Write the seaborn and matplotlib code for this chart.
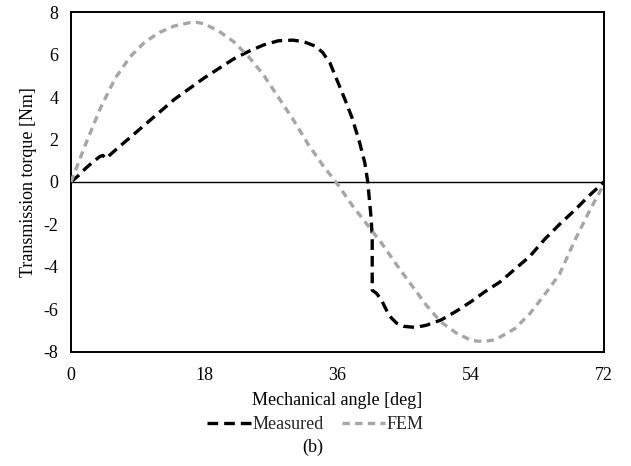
import matplotlib
matplotlib.use("Agg")
import matplotlib.pyplot as plt
import seaborn as sns
import pandas as pd
from matplotlib.lines import Line2D

# Measured series
meas_x = [0, 1, 2, 3, 3.9, 4.3, 4.7, 6, 8, 10, 12, 14, 16, 18, 20, 22, 24, 26, 28, 30,
          31.5, 33, 34, 35, 36, 37, 38, 39, 39.7, 40.1, 40.5, 40.7, 40.7, 41.3, 42, 43, 44, 45,
          46.5, 48, 50, 52, 54, 56, 58, 60, 62, 64, 66, 68, 70, 72]
meas_y = [0, 0.3, 0.65, 0.95, 1.2, 1.25, 1.1, 1.5, 2.1, 2.7, 3.3, 3.9, 4.4, 4.9, 5.35,
          5.8, 6.15, 6.45, 6.65, 6.68, 6.6, 6.4, 6.1, 5.6, 4.75, 3.9, 3.0, 1.85, 0.9, 0.0,
          -1.5, -2.5, -5.1, -5.25, -5.6, -6.3, -6.65, -6.8, -6.85, -6.75, -6.5, -6.1, -5.65,
          -5.15, -4.7, -4.1, -3.5, -2.7, -2.0, -1.35, -0.65, 0]

# FEM series
fem_x = [0, 2, 4, 6, 8, 10, 12, 14, 16, 17, 18, 20, 22, 24, 26, 28, 30, 32, 34, 36, 38,
         40, 42, 44, 46, 48, 50, 52, 54, 55, 56, 57, 58, 60, 62, 64, 66, 68, 70, 72]
fem_y = [0, 1.8, 3.5, 4.9, 5.9, 6.6, 7.05, 7.35, 7.5, 7.52, 7.45, 7.1, 6.6, 5.9, 5.05,
         4.0, 2.95, 1.8, 0.8, -0.1, -1.1, -2.0, -2.9, -3.9, -4.85, -5.8, -6.6, -7.1,
         -7.45, -7.5, -7.5, -7.45, -7.3, -6.9, -6.2, -5.3, -4.35, -2.8, -1.4, -0.1]

x_ticks = [0, 18, 36, 54, 72]
y_ticks = [-8, -6, -4, -2, 0, 2, 4, 6, 8]

sns.set_theme(style="white")
plt.rcParams['font.family'] = ['Liberation Serif', 'DejaVu Serif']
plt.rcParams['axes.unicode_minus'] = False

df = pd.concat([
    pd.DataFrame({"angle": meas_x, "torque": meas_y, "series": "Measured"}),
    pd.DataFrame({"angle": fem_x, "torque": fem_y, "series": "FEM"}),
], ignore_index=True)

fig = plt.figure(figsize=(6.31, 4.66), dpi=100)
ax = fig.add_axes([0.1125, 0.245, 0.957 - 0.1125, 0.974 - 0.245])

palette = {"Measured": "#000000", "FEM": "#A6A6A6"}
dashes = {"Measured": (3.2, 1.8), "FEM": (2.2, 1.6)}
ax.axhline(0, color="black", lw=1.0, zorder=1)
sns.lineplot(data=df, x="angle", y="torque", hue="series", style="series",
             palette=palette, dashes=dashes, sort=False, estimator=None,
             lw=2.4, ax=ax, legend=False, zorder=3)

FS = 13
ax.set_xlim(0, 72)
ax.set_ylim(-8, 8)
ax.set_xticks(x_ticks)
ax.set_yticks(y_ticks)
ax.tick_params(axis="both", length=0, labelsize=FS, colors="black")
ax.tick_params(axis="x", pad=11)
ax.tick_params(axis="y", pad=9)
for s in ax.spines.values():
    s.set_color("black")
    s.set_linewidth(1.4)
ax.set_xlabel("Mechanical angle [deg]", fontsize=FS, color="black", labelpad=6)
ax.set_ylabel("Transmission torque [Nm]", fontsize=FS, color="black", labelpad=5)

handles = [Line2D([0], [0], color="#000000", lw=2.4, dashes=(3.2, 1.8)),
           Line2D([0], [0], color="#A6A6A6", lw=2.4, dashes=(2.2, 1.6))]
fig.legend(handles, ["Measured", "FEM"], loc="center", bbox_to_anchor=(0.5, 0.088),
           ncol=2, frameon=False, fontsize=FS, handlelength=2.4, handletextpad=0.1,
           columnspacing=1.0)
fig.text(0.495, 0.04, "(b)", ha="center", va="center", fontsize=FS, color="black")

fig.savefig("out.png", dpi=100)
